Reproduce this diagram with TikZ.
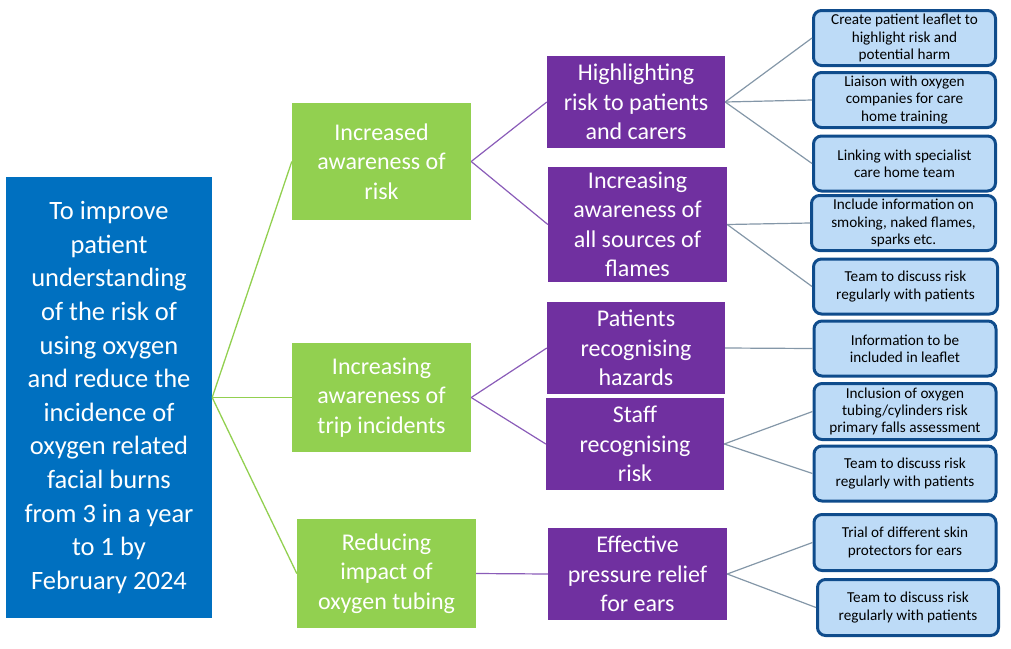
\documentclass[tikz,border=0pt]{standalone}
\usepackage{fontspec}
\setmainfont{Carlito}
\definecolor{goalblue}{HTML}{0070C0}
\definecolor{lgreen}{HTML}{92D050}
\definecolor{dpurple}{HTML}{7030A0}
\definecolor{lpurple}{HTML}{8A5CB8}
\definecolor{actfill}{HTML}{BDDBF7}
\definecolor{actborder}{HTML}{0F4C8C}
\definecolor{greyline}{HTML}{8497A8}
\begin{document}
\begin{tikzpicture}[x=1pt,y=-1pt,
  goalbox/.style={fill=goalblue,text=white,font=\fontsize{26.5}{33.6}\selectfont,align=center,inner sep=0,minimum width=206pt,minimum height=441pt},
  greenbox/.style={fill=lgreen,text=white,font=\fontsize{24}{29.5}\selectfont,align=center,inner sep=0,minimum width=179pt},
  purplebox/.style={fill=dpurple,text=white,font=\fontsize{24}{29.5}\selectfont,align=center,inner sep=0,minimum width=178pt},
  actbox/.style={fill=actfill,draw=actborder,line width=3pt,rounded corners=8pt,text=black,font=\fontsize{15.2}{17.2}\selectfont,align=center,inner sep=0,minimum width=182pt,minimum height=55pt},
  gline/.style={draw=lgreen,line width=1.3pt},
  pline/.style={draw=lpurple,line width=1.2pt},
  aline/.style={draw=greyline,line width=1.2pt}
]
\useasboundingbox (0,0) rectangle (1011,648);

\node[goalbox] (goal) at (109,397.5) {To improve\\patient\\understanding\\of the risk of\\using oxygen\\and reduce the\\incidence of\\oxygen related\\facial burns\\from 3 in a year\\to 1 by\\February 2024};

\node[greenbox,minimum height=117pt] (g1) at (381.5,161.5) {Increased\\awareness of\\risk};
\node[greenbox,minimum height=109pt] (g2) at (381.5,397.5) {Increasing\\awareness of\\trip incidents};
\node[greenbox,minimum height=109pt] (g3) at (386.5,573.5) {Reducing\\impact of\\oxygen tubing};

\node[purplebox,minimum height=92pt] (p1) at (636,102) {Highlighting\\risk to patients\\and carers};
\node[purplebox,minimum height=115pt,minimum width=179pt] (p2) at (637.5,224.5) {Increasing\\awareness of\\all sources of\\flames};
\node[purplebox,minimum height=92pt] (p3) at (636,348) {Patients\\recognising\\hazards};
\node[purplebox,minimum height=92pt] (p4) at (635,444) {Staff\\recognising\\risk};
\node[purplebox,minimum height=92pt,minimum width=179pt] (p5) at (637.5,574) {Effective\\pressure relief\\for ears};

\node[actbox] (r1) at (904.5,38) {Create patient leaflet to\\highlight risk and\\potential harm};
\node[actbox] (r2) at (904.5,100) {Liaison with oxygen\\companies for care\\home training};
\node[actbox] (r3) at (904.5,163.5) {Linking with specialist\\care home team};
\node[actbox,minimum width=184pt] (r4) at (903.5,223) {Include information on\\smoking, naked flames,\\sparks etc.};
\node[actbox,minimum width=184pt] (r5) at (905.5,286.5) {Team to discuss risk\\regularly with patients};
\node[actbox] (r6) at (905,348.5) {Information to be\\included in leaflet};
\node[actbox,minimum height=56pt] (r7) at (905,411.5) {Inclusion of oxygen\\tubing/cylinders risk\\primary falls assessment};
\node[actbox] (r8) at (905,473.5) {Team to discuss risk\\regularly with patients};
\node[actbox,minimum height=56pt] (r9) at (905,542.5) {Trial of different skin\\protectors for ears};
\node[actbox,minimum height=56pt,minimum width=181pt] (r10) at (908,607.5) {Team to discuss risk\\regularly with patients};

\draw[gline] (goal.east) -- (g1.west);
\draw[gline] (goal.east) -- (g2.west);
\draw[gline] (goal.east) -- (g3.west);

\draw[pline] (g1.east) -- (p1.west);
\draw[pline] (g1.east) -- (p2.west);
\draw[pline] (g2.east) -- (p3.west);
\draw[pline] (g2.east) -- (p4.west);
\draw[pline] (g3.east) -- (p5.west);

\draw[aline] (p1.east) -- (r1.west);
\draw[aline] (p1.east) -- (r2.west);
\draw[aline] (p1.east) -- (r3.west);
\draw[aline] (p2.east) -- (r4.west);
\draw[aline] (p2.east) -- (r5.west);
\draw[aline] (p3.east) -- (r6.west);
\draw[aline] (p4.east) -- (r7.west);
\draw[aline] (p4.east) -- (r8.west);
\draw[aline] (p5.east) -- (r9.west);
\draw[aline] (p5.east) -- (r10.west);
\end{tikzpicture}
\end{document}
